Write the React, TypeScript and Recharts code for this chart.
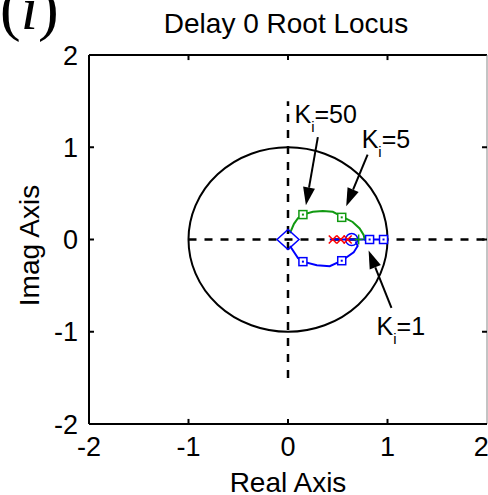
import React from 'react';
import { ComposedChart, Scatter, XAxis, YAxis, ReferenceLine, ReferenceArea, Label } from 'recharts';

// ---- data ----
const xTicks = [-2, -1, 0, 1, 2];
const yTicks = [-2, -1, 0, 1, 2];
const innerTicks = [-1, 0, 1];

const unitCircle = { x1: -1, x2: 1, y1: -1, y2: 1 };
const realAxisDash = [{ x: -1, y: 0 }, { x: 2, y: 0 }];
const imagAxisDash = [{ x: 0, y: -1.5 }, { x: 0, y: 1.5 }];

const upperBranch = [
  { x: 0.02, y: 0.07 }, { x: 0.06, y: 0.17 }, { x: 0.1, y: 0.23 }, { x: 0.15, y: 0.27 },
  { x: 0.25, y: 0.3 }, { x: 0.35, y: 0.31 }, { x: 0.45, y: 0.3 }, { x: 0.54, y: 0.25 },
  { x: 0.65, y: 0.19 }, { x: 0.72, y: 0.12 }, { x: 0.76, y: 0.05 }, { x: 0.77, y: 0 },
];
const lowerBranch = [
  { x: 0.02, y: -0.07 }, { x: 0.05, y: -0.12 }, { x: 0.1, y: -0.2 }, { x: 0.15, y: -0.24 },
  { x: 0.29, y: -0.28 }, { x: 0.42, y: -0.29 }, { x: 0.54, y: -0.23 }, { x: 0.66, y: -0.14 },
  { x: 0.7, y: -0.07 }, { x: 0.68, y: -0.02 },
];
const realBranch = [{ x: 0.42, y: 0 }, { x: 1.0, y: 0 }];

const greenSquares = [{ x: 0.15, y: 0.27 }, { x: 0.54, y: 0.24 }];
const blueSquares = [{ x: 0.15, y: -0.24 }, { x: 0.54, y: -0.23 }, { x: 0.82, y: 0 }, { x: 0.96, y: 0 }];
const redCrosses = [{ x: 0.45, y: 0 }, { x: 0.53, y: 0 }, { x: 0.6, y: 0 }];
const greenPlus = [{ x: 0.71, y: 0 }];
const blueCircle = [{ x: 0.64, y: 0 }];
const blueDiamond = [{ x: 0, y: 0 }];

const gainLabels = ['50', '5', '1'];
const labelAnchors = [{ x: 0.065, y: 1.26 }, { x: 0.74, y: 0.99 }, { x: 0.89, y: -1.035 }];
const arrowTails = [{ x: 0.3, y: 1.11 }, { x: 0.8, y: 0.92 }, { x: 1.04, y: -0.74 }];
const arrowTips = [{ x: 0.18, y: 0.37 }, { x: 0.585, y: 0.36 }, { x: 0.81, y: -0.12 }];

// ---- styles ----
const FONT = "'Liberation Sans', Arial, sans-serif";
const TICK_LEN_X = 0.05;
const TICK_LEN_Y = 0.055;
const GREEN = '#119911';
const BLUE = '#0000ff';
const RED = '#ff0000';

const none = () => <g />;

const squareShape = (color: string) => (p: any) => (
  <g>
    <rect x={p.cx - 4} y={p.cy - 4} width={8} height={8} fill="#fff" stroke={color} strokeWidth={1.5} />
    <rect x={p.cx - 1} y={p.cy - 1} width={2} height={2} fill={color} />
  </g>
);
const crossShape = (p: any) => (
  <g stroke={RED} strokeWidth={1.5}>
    <line x1={p.cx - 4} y1={p.cy - 4} x2={p.cx + 4} y2={p.cy + 4} />
    <line x1={p.cx - 4} y1={p.cy + 4} x2={p.cx + 4} y2={p.cy - 4} />
  </g>
);
const plusShape = (p: any) => (
  <g stroke={GREEN} strokeWidth={1.5}>
    <line x1={p.cx} y1={p.cy - 5} x2={p.cx} y2={p.cy + 5} />
    <line x1={p.cx - 4} y1={p.cy} x2={p.cx + 4} y2={p.cy} />
  </g>
);
const circleShape = (p: any) => <circle cx={p.cx} cy={p.cy} r={6} fill="none" stroke={BLUE} strokeWidth={1.5} />;
const diamondShape = (p: any) => (
  <polygon
    points={`${p.cx - 11},${p.cy} ${p.cx},${p.cy - 10} ${p.cx + 11},${p.cy} ${p.cx},${p.cy + 10}`}
    fill="none"
    stroke={BLUE}
    strokeWidth={1.5}
  />
);

const labelData = gainLabels.map((g, i) => ({ ...labelAnchors[i], gain: g }));
const labelShape = (p: any) => (
  <text x={p.cx} y={p.cy} fontFamily={FONT} fontSize={25} fill="#000">
    K
    <tspan dy={9} fontSize={15}>i</tspan>
    <tspan dy={-9}>={p.payload.gain}</tspan>
  </text>
);

const arrowShape = (p: any) => {
  const { x1, y1, x2, y2 } = p;
  const dx = x2 - x1;
  const dy = y2 - y1;
  const len = Math.sqrt(dx * dx + dy * dy) || 1;
  const ux = dx / len;
  const uy = dy / len;
  const hl = 18;
  const hw = 6;
  const bx = x2 - ux * hl;
  const by = y2 - uy * hl;
  return (
    <g>
      <line x1={x1} y1={y1} x2={bx} y2={by} stroke="#000" strokeWidth={2} />
      <polygon
        points={`${x2},${y2} ${bx - uy * hw},${by + ux * hw} ${bx + uy * hw},${by - ux * hw}`}
        fill="#000"
      />
    </g>
  );
};

const ellipseShape = (p: any) => {
  const w = Math.abs(p.width);
  const h = Math.abs(p.height);
  const x = p.width < 0 ? p.x + p.width : p.x;
  const y = p.height < 0 ? p.y + p.height : p.y;
  return <ellipse cx={x + w / 2} cy={y + h / 2} rx={w / 2} ry={h / 2} fill="none" stroke="#000" strokeWidth={2} />;
};

export default function App() {
  return (
    <div style={{ position: 'absolute', left: 0, top: 0, width: 488, height: 495, background: '#fff' }}>
      <svg width={488} height={60} style={{ position: 'absolute', left: 0, top: 0 }}>
        <text x={0} y={29} fontFamily="'Liberation Serif', 'Times New Roman', serif" fontSize={62} fill="#000">
          (<tspan fontStyle="italic">i</tspan>)
        </text>
        <text x={286} y={33} textAnchor="middle" fontFamily={FONT} fontSize={28} fill="#000">
          Delay 0 Root Locus
        </text>
      </svg>
      <div style={{ position: 'absolute', left: 0, top: 0 }}>
        <ComposedChart width={488} height={495} margin={{ top: 55, right: 1, bottom: 21, left: 0 }}>
          <XAxis
            type="number"
            dataKey="x"
            domain={[-2, 2]}
            ticks={xTicks}
            allowDataOverflow
            height={50}
            tickLine={false}
            tickSize={0}
            tickMargin={13}
            axisLine={{ stroke: '#000', strokeWidth: 2 }}
            tick={{ fill: '#000', fontSize: 27, fontFamily: FONT }}
          >
            <Label value="Real Axis" position="insideBottom" offset={-18} fill="#000" fontSize={28} fontFamily={FONT} />
          </XAxis>
          <YAxis
            type="number"
            dataKey="y"
            domain={[-2, 2]}
            ticks={yTicks}
            allowDataOverflow
            width={89}
            tickLine={false}
            tickSize={0}
            tickMargin={11}
            axisLine={{ stroke: '#000', strokeWidth: 2 }}
            tick={{ fill: '#000', fontSize: 27, fontFamily: FONT }}
          >
            <Label
              value="Imag Axis"
              angle={-90}
              position="insideLeft"
              offset={29}
              dy={6}
              fill="#000"
              fontSize={28}
              fontFamily={FONT}
              style={{ textAnchor: 'middle' }}
            />
          </YAxis>

          {/* frame */}
          <ReferenceLine y={2} stroke="#000" strokeWidth={2} />
          <ReferenceLine x={2} stroke="#888" strokeWidth={1} />
          {innerTicks.map((t) => (
            <ReferenceLine key={`bx${t}`} segment={[{ x: t, y: -2 }, { x: t, y: -2 + TICK_LEN_Y }]} stroke="#000" strokeWidth={2} />
          ))}
          {innerTicks.map((t) => (
            <ReferenceLine key={`tx${t}`} segment={[{ x: t, y: 2 }, { x: t, y: 2 - TICK_LEN_Y }]} stroke="#000" strokeWidth={2} />
          ))}
          {innerTicks.map((t) => (
            <ReferenceLine key={`ly${t}`} segment={[{ x: -2, y: t }, { x: -2 + TICK_LEN_X, y: t }]} stroke="#000" strokeWidth={2} />
          ))}
          {innerTicks.map((t) => (
            <ReferenceLine key={`ry${t}`} segment={[{ x: 2, y: t }, { x: 2 - TICK_LEN_X, y: t }]} stroke="#000" strokeWidth={2} />
          ))}

          <ReferenceArea {...unitCircle} shape={ellipseShape} />
          <ReferenceLine segment={realAxisDash} stroke="#000" strokeWidth={2.5} strokeDasharray="8 8" />
          <ReferenceLine segment={imagAxisDash} stroke="#000" strokeWidth={2.5} strokeDasharray="8 8" />

          <Scatter data={realBranch} line={{ stroke: BLUE, strokeWidth: 2 }} lineType="joint" shape={none} isAnimationActive={false} />
          <Scatter data={upperBranch} line={{ stroke: GREEN, strokeWidth: 2 }} lineType="joint" shape={none} isAnimationActive={false} />
          <Scatter data={lowerBranch} line={{ stroke: BLUE, strokeWidth: 2 }} lineType="joint" shape={none} isAnimationActive={false} />

          <Scatter data={blueDiamond} shape={diamondShape} isAnimationActive={false} />
          <Scatter data={blueCircle} shape={circleShape} isAnimationActive={false} />
          <Scatter data={redCrosses} shape={crossShape} isAnimationActive={false} />
          <Scatter data={greenPlus} shape={plusShape} isAnimationActive={false} />
          <Scatter data={greenSquares} shape={squareShape(GREEN)} isAnimationActive={false} />
          <Scatter data={blueSquares} shape={squareShape(BLUE)} isAnimationActive={false} />

          {arrowTails.map((t, i) => (
            <ReferenceLine key={`arrow${i}`} segment={[t, arrowTips[i]]} shape={arrowShape} />
          ))}
          <Scatter data={labelData} shape={labelShape} isAnimationActive={false} />
        </ComposedChart>
      </div>
    </div>
  );
}
